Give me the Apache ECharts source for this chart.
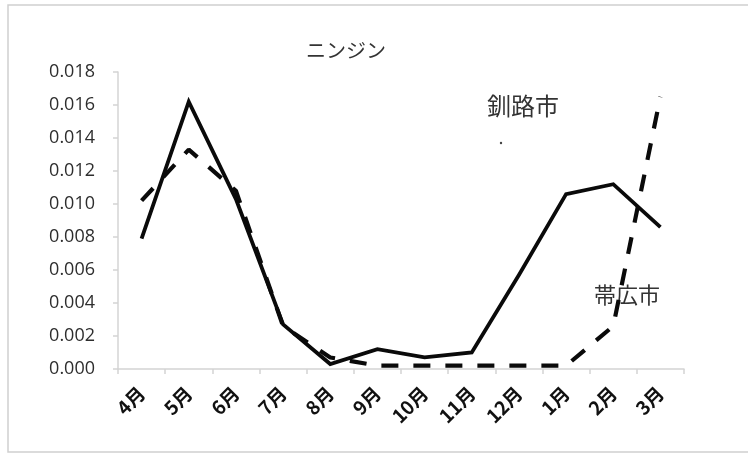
<!DOCTYPE html>
<html>
<head>
<meta charset="utf-8">
<script src="https://cdn.jsdelivr.net/npm/echarts@6/dist/echarts.min.js"></script>
<style>
  html, body { margin: 0; padding: 0; background: #fff; }
  #chart { width: 748px; height: 454px; }
</style>
</head>
<body>
<div id="chart"></div>
<script>
// Monthly values for carrots (ニンジン), April through March
const months = ['4月', '5月', '6月', '7月', '8月', '9月', '10月', '11月', '12月', '1月', '2月', '3月'];
const kushiro = [0.0079, 0.0162, 0.0103, 0.0027, 0.0003, 0.0012, 0.0007, 0.0010, 0.0057, 0.0106, 0.0112, 0.0086];
const obihiro = [0.0102, 0.0133, 0.0108, 0.0026, 0.0007, 0.0002, 0.0002, 0.0002, 0.0002, 0.0002, 0.0026, 0.0165];
const yTicks = { min: 0, max: 0.018, step: 0.002 };

const chart = echarts.init(document.getElementById('chart'), null, { renderer: 'canvas' });
const axisGray = '#d4d4d4';
const labelFont = '"Open Sans", "Noto Sans CJK JP", sans-serif';
const cjkFont = '"Noto Sans CJK JP", "Noto Sans", sans-serif';

chart.setOption({
  backgroundColor: '#ffffff',
  animation: false,
  title: {
    text: 'ニンジン',
    left: 341,
    top: 35,
    textAlign: 'center',
    textStyle: { fontFamily: cjkFont, fontSize: 20, fontWeight: 'normal', color: '#333333' }
  },
  grid: { left: 118, right: 64, top: 72, bottom: 85, containLabel: false },
  xAxis: {
    type: 'category',
    data: months,
    boundaryGap: true,
    axisLine: { lineStyle: { color: axisGray, width: 1.5 } },
    axisTick: { show: true, length: 5, lineStyle: { color: axisGray, width: 1.5 } },
    axisLabel: {
      rotate: 45,
      margin: 21,
      interval: 0,
      fontFamily: cjkFont,
      fontSize: 19,
      fontWeight: 'bold',
      color: '#111111'
    },
    splitLine: { show: false }
  },
  yAxis: {
    type: 'value',
    min: yTicks.min,
    max: yTicks.max,
    interval: yTicks.step,
    axisLine: { show: true, lineStyle: { color: axisGray, width: 1.5 } },
    axisTick: { show: true, length: 5, lineStyle: { color: axisGray, width: 1.5 } },
    axisLabel: {
      margin: 23,
      formatter: v => v.toFixed(3),
      fontFamily: labelFont,
      fontSize: 18,
      color: '#2e2e2e'
    },
    splitLine: { show: false }
  },
  series: [
    {
      name: '釧路市',
      type: 'line',
      data: kushiro,
      symbol: 'none',
      lineStyle: { color: '#0a0a0a', width: 3.8, type: 'solid', join: 'miter' },
      z: 3
    },
    {
      name: '帯広市',
      type: 'line',
      data: obihiro,
      symbol: 'none',
      lineStyle: { color: '#0a0a0a', width: 4.2, type: [17, 15], cap: 'butt' },
      z: 4
    }
  ],
  graphic: [
    {
      type: 'rect',
      shape: { x: 8, y: 5, width: 750, height: 447 },
      style: { fill: 'none', stroke: '#d0d0d0', lineWidth: 1.5 },
      silent: true,
      z: -1
    },
    {
      type: 'text',
      left: 487,
      top: 94,
      style: { text: '釧路市', font: 'normal 24px ' + cjkFont, fill: '#333333' }
    },
    {
      type: 'circle',
      shape: { cx: 501, cy: 143, r: 1.2 },
      style: { fill: '#444444' }
    },
    {
      type: 'text',
      left: 594,
      top: 284,
      style: { text: '帯広市', font: 'normal 22px ' + cjkFont, fill: '#333333' }
    }
  ]
});
</script>
</body>
</html>
